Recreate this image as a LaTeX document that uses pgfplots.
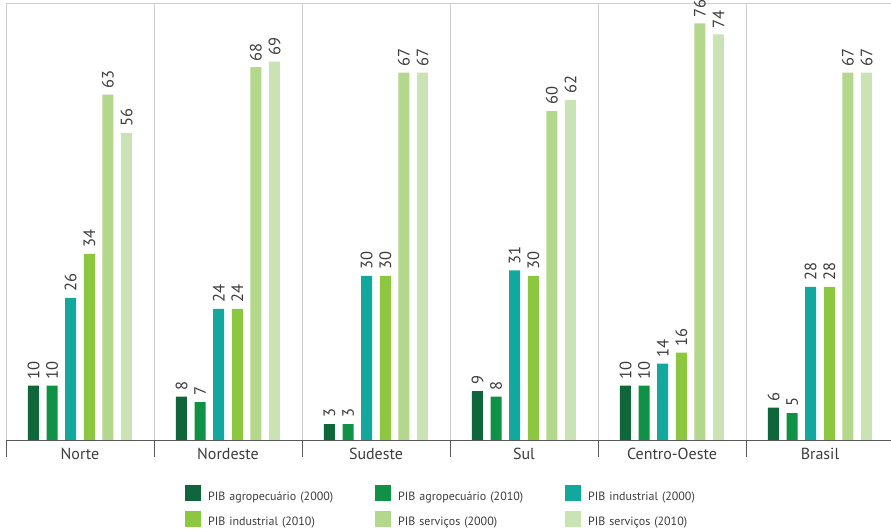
\documentclass[border=0pt]{standalone}
\usepackage{pgfplots}
\pgfplotsset{compat=1.18}
\usepackage{fontspec}
\setmainfont{PT Sans}

\definecolor{agro00}{RGB}{14,102,58}
\definecolor{agro10}{RGB}{15,146,70}
\definecolor{ind00}{RGB}{19,168,158}
\definecolor{ind10}{RGB}{141,198,63}
\definecolor{serv00}{RGB}{179,215,139}
\definecolor{serv10}{RGB}{201,227,180}
\definecolor{txt}{RGB}{60,60,60}
\definecolor{frame}{RGB}{205,205,205}

\pgfplotsset{
  sq/.style={legend image code/.code={\fill[##1] (0pt,-4.5pt) rectangle (16pt,11.5pt);}},
}

% Participação dos setores no PIB (%), 2000 e 2010
\pgfplotstableread{
x  agro00 agro10 ind00 ind10 serv00 serv10
0  10     10     26    34    63     56
1  8      7      24    24    68     69
2  3      3      30    30    67     67
3  9      8      31    30    60     62
4  10     10     14    16    76     74
5  6      5      28    28    67     67
}\pib
\usepackage{pgfplotstable}

\begin{document}
\begin{tikzpicture}
\useasboundingbox (-6pt,-90.5pt) rectangle (885pt,440.5pt);
\begin{axis}[
  scale only axis, width=885pt, height=437.5pt,
  xmin=-0.5, xmax=5.48, ymin=0, ymax=79.7,
  ybar=7.6pt, bar width=11pt,
  axis line style={draw=none},
  ytick=\empty,
  xtick={0,...,5},
  xticklabels={Norte,Nordeste,Sudeste,Sul,Centro-Oeste,Brasil},
  xtick pos=bottom,
  major tick length=0pt,
  minor xtick={-0.5,0.5,1.5,2.5,3.5,4.5},
  minor tick length=16.5pt,
  tick align=outside,
  minor tick style={draw=txt!85, line width=0.8pt},
  xminorgrids=true,
  minor grid style={draw=frame, line width=0.8pt},
  xticklabel style={font=\fontsize{16}{18}\selectfont, text=txt, yshift=-4pt},
  /pgf/number format/assume math mode=true,
  nodes near coords,
  every node near coord/.append style={rotate=90, anchor=west, inner sep=0pt, xshift=6pt,
    font=\fontsize{16.5}{18}\selectfont, text=txt},
  legend columns=3,
  legend style={draw=none, fill=none, inner sep=0pt,
    at={(axis description cs:0.2023,-0.1017)}, anchor=north west,
    font=\fontsize{12}{14}\selectfont, text=txt,
    nodes={inner sep=0pt, text width=167pt, align=left},
    /tikz/every odd column/.style={column sep=7pt},
    /tikz/row sep=9pt},
  clip=false,
]
\addplot[fill=agro00, draw=none, sq] table[x=x, y=agro00] {\pib};
\addlegendentry{PIB agropecuário (2000)}
\addplot[fill=agro10, draw=none, sq] table[x=x, y=agro10] {\pib};
\addlegendentry{PIB agropecuário (2010)}
\addplot[fill=ind00, draw=none, sq] table[x=x, y=ind00] {\pib};
\addlegendentry{PIB industrial (2000)}
\addplot[fill=ind10, draw=none, sq] table[x=x, y=ind10] {\pib};
\addlegendentry{PIB industrial (2010)}
\addplot[fill=serv00, draw=none, sq] table[x=x, y=serv00] {\pib};
\addlegendentry{PIB serviços (2000)}
\addplot[fill=serv10, draw=none, sq] table[x=x, y=serv10] {\pib};
\addlegendentry{PIB serviços (2010)}
% moldura: topo e lateral claras, linha de base escura
\draw[frame, line width=0.8pt] (rel axis cs:0,0) -- (rel axis cs:0,1) -- (rel axis cs:1,1);
\draw[txt!85, line width=1.2pt] (rel axis cs:0,0) -- (rel axis cs:1,0);
\end{axis}
\end{tikzpicture}
\end{document}
